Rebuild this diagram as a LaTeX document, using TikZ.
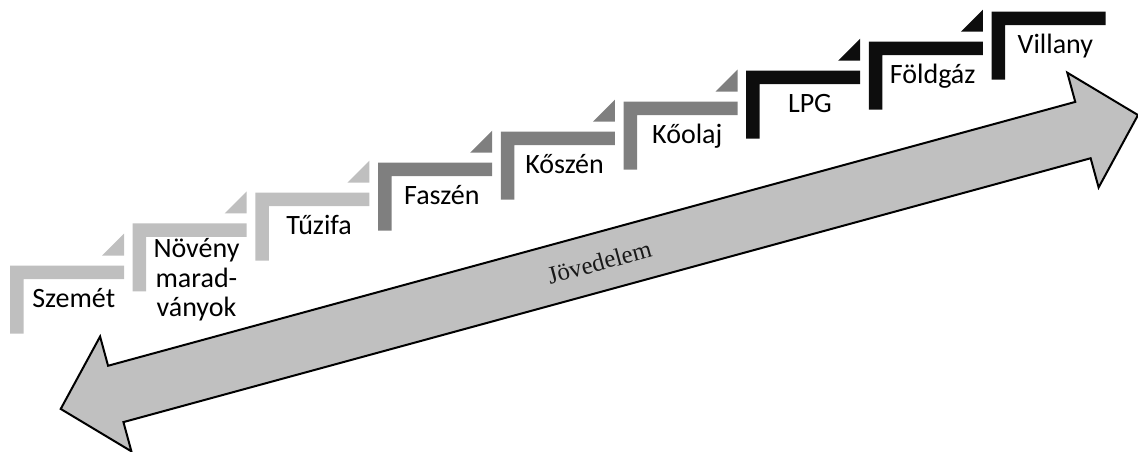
\documentclass[tikz,border=0pt]{standalone}
\usepackage{fontspec}
\setmainfont{Carlito}
\newfontfamily\incomefont{Liberation Serif}
\definecolor{steplight}{HTML}{BFBFBF}
\definecolor{stepmid}{HTML}{7F7F7F}
\definecolor{stepdark}{HTML}{0D0D0D}
\definecolor{arrowgray}{HTML}{C0C0C0}
\tikzset{
  steplabel/.style={font=\fontsize{28}{29.5}\selectfont, anchor=base, align=center, inner sep=0pt},
  incomelabel/.style={font=\incomefont\fontsize{25}{30}\selectfont, text=black!90, rotate=15.26},
  incomearrow/.style={draw=black, fill=arrowgray, line width=2pt, line join=miter}
}

\begin{document}
\begin{tikzpicture}[x=1pt,y=-1pt]
\useasboundingbox (0,0) rectangle (1138,452);

\pgfmathsetmacro\dx{122.7}
\pgfmathsetmacro\w{114}
\pgfmathsetmacro\t{13.5}
\pgfmathsetmacro\h{68}

% the big double arrow
\begin{scope}[shift={(599.35,262)}, rotate=15.26]
\draw[incomearrow] (-558.35,0) -- (-501.3,-59.5) -- (-501.3,-29.2) -- (501.3,-29.2)
  -- (501.3,-59.5) -- (558.35,0) -- (501.3,59.5) -- (501.3,29.2)
  -- (-501.3,29.2) -- (-501.3,59.5) -- cycle;
\end{scope}
\node[incomelabel] (jovedelem) at (599.35,262) {Jövedelem};

% steps, each with a small triangle at its right end
\foreach \i/\y/\c in {1/265.7/steplight, 2/223.3/steplight, 3/192.7/steplight,
    4/162.7/stepmid, 5/131.7/stepmid, 6/101.7/stepmid,
    7/70.7/stepdark, 8/41.7/stepdark, 9/11.7/stepdark} {
  \pgfmathsetmacro\x{10+(\i-1)*\dx}
  \fill[\c] (\x,\y) -- ++(\w,0) -- ++(0,\t) -- ++(-\w+\t,0) -- ++(0,\h-\t)
    -- ++(-\t,0) -- cycle;
  \ifnum\i<9
    \fill[\c] (\x+\w,\y-10) -- ++(-22,0) -- ++(22,-22) -- cycle;
  \fi
}

\node[steplabel] (szemet) at (73.75,307.7) {Szemét};
\node[steplabel] (noveny) at (196.45,316.7) {Növény\\marad-\\ványok};
\node[steplabel] (tuzifa) at (319.15,234.7) {Tűzifa};
\node[steplabel] (faszen) at (441.85,204.7) {Faszén};
\node[steplabel] (koszen) at (564.55,173.7) {Kőszén};
\node[steplabel] (koolaj) at (687.25,143.7) {Kőolaj};
\node[steplabel] (lpg) at (809.95,112.7) {LPG};
\node[steplabel] (foldgaz) at (932.65,83.7) {Földgáz};
\node[steplabel] (villany) at (1055.35,53.7) {Villany};
\end{tikzpicture}
\end{document}
